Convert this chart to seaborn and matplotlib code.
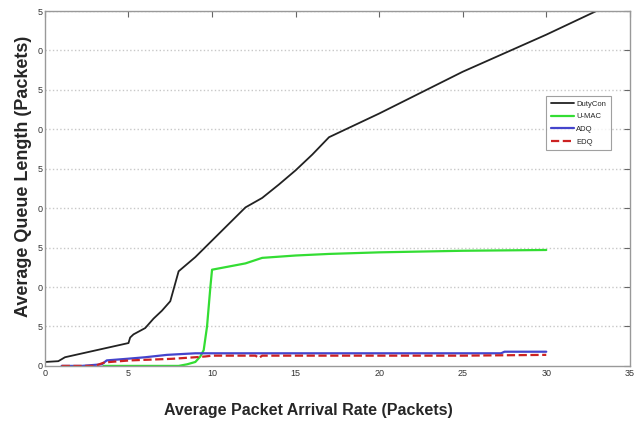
import matplotlib
matplotlib.use("Agg")
import matplotlib.pyplot as plt
import seaborn as sns
import pandas as pd

# ---- data ----
dutycon_x = [0, 0.8, 1.2, 5.0, 5.1, 5.3, 6.0, 6.5, 7.0, 7.5, 8.0, 9.0, 10.0, 11.0, 12.0,
             13.0, 14.0, 15.0, 16.0, 17.0, 20.0, 25.0, 30.0, 33.0]
dutycon_y = [0.5, 0.6, 1.1, 2.9, 3.6, 4.0, 4.8, 6.0, 7.0, 8.2, 12.0, 13.8, 15.9, 18.0, 20.1,
             21.3, 23.0, 24.8, 26.8, 29.0, 32.0, 37.3, 42.0, 45.0]

umac_x = [3.5, 8.0, 8.5, 9.0, 9.3, 9.5, 9.7, 9.9, 10.0, 11.0, 12.0, 13.0, 15.0, 17.0, 20.0, 25.0, 30.0]
umac_y = [0.0, 0.0, 0.2, 0.5, 1.2, 2.0, 5.0, 10.0, 12.2, 12.6, 13.0, 13.7, 14.0, 14.2, 14.4, 14.6, 14.7]

adq_x = [1.0, 2.2, 3.4, 3.7, 4.9, 6.0, 7.3, 9.0, 10.0, 15.0, 20.0, 25.0, 27.3, 27.5, 30.0]
adq_y = [0.0, 0.0, 0.2, 0.7, 0.9, 1.1, 1.4, 1.6, 1.6, 1.6, 1.6, 1.6, 1.6, 1.8, 1.8]

edq_x = [1.0, 3.0, 3.5, 3.9, 5.1, 7.6, 9.0, 9.6, 10.0, 12.6, 12.8, 13.0, 15.0, 20.0, 25.0, 30.0]
edq_y = [0.0, 0.0, 0.4, 0.5, 0.7, 0.9, 1.1, 1.2, 1.3, 1.3, 1.0, 1.3, 1.3, 1.3, 1.3, 1.4]

x_ticks = [0, 5, 10, 15, 20, 25, 30, 35]
x_tick_labels = ["0", "5", "10", "15", "20", "25", "30", "35"]
y_ticks = [0, 5, 10, 15, 20, 25, 30, 35, 40, 45]
y_tick_labels = ["0", "5", "0", "5", "0", "5", "0", "5", "0", "5"]

series_names = ["DutyCon", "U-MAC", "ADQ", "EDQ"]
colors = ["#222222", "#33dd33", "#4444cc", "#cc2222"]
styles = ["-", "-", "-", "--"]
widths = [1.3, 1.6, 1.6, 1.6]

sns.set_style("white")
plt.rcParams["font.family"] = ["Liberation Sans", "DejaVu Sans"]

fig = plt.figure(figsize=(6.42, 4.24), dpi=100)
ax = fig.add_axes([0.070, 0.137, 0.911, 0.837])

all_x = [dutycon_x, umac_x, adq_x, edq_x]
all_y = [dutycon_y, umac_y, adq_y, edq_y]
for name, xs, ys, c, ls, lw in zip(series_names, all_x, all_y, colors, styles, widths):
    df = pd.DataFrame({"x": xs, "y": ys})
    sns.lineplot(data=df, x="x", y="y", ax=ax, color=c, linestyle=ls, linewidth=lw,
                 label=name, sort=False, estimator=None)

ax.set_xlim(0, 35)
ax.set_ylim(0, 45)
ax.set_xticks(x_ticks)
ax.set_xticklabels(x_tick_labels, fontsize=6.5, color="#333333")
ax.set_yticks(y_ticks)
ax.set_yticklabels(y_tick_labels, fontsize=6.5, color="#333333")
ax.tick_params(direction="in", length=4, color="#666666", top=True, right=True, pad=2)

for y in y_ticks[1:]:
    ax.axhline(y, color="#c8c8c8", linestyle=":", linewidth=1.0, zorder=0)

for s in ax.spines.values():
    s.set_color("#999999")
    s.set_linewidth(1.0)

ax.set_xlabel("")
ax.set_ylabel("")
fig.text(0.480, 0.033, "Average Packet Arrival Rate (Packets)", ha="center", va="center",
         fontsize=11.5, fontweight="bold")
fig.text(0.037, 0.585, "Average Queue Length (Packets)", ha="center", va="center",
         rotation=90, fontsize=13, fontweight="bold")

leg = ax.legend(loc="upper left", bbox_to_anchor=(0.851, 0.772), fontsize=5.5,
                handlelength=3.0, handletextpad=0.3, borderpad=0.6, labelspacing=0.7,
                frameon=True, fancybox=False, edgecolor="#888888")
leg.get_frame().set_linewidth(0.8)

fig.savefig("out.png", dpi=100)
